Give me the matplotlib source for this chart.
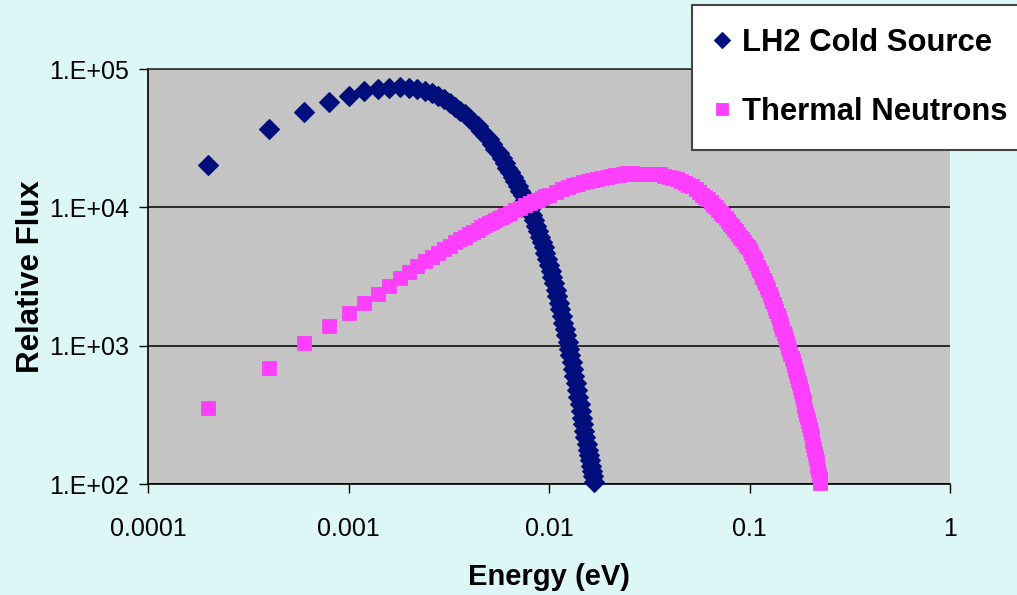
import matplotlib
matplotlib.use('Agg')
import matplotlib.pyplot as plt
from matplotlib.ticker import FixedLocator, FixedFormatter, NullLocator

# ---------------- data ----------------
cold_energy = [0.0002, 0.0004, 0.0006, 0.0008, 0.0010, 0.0012, 0.0014, 0.0016, 0.0018, 0.0020,
               0.0022, 0.0024, 0.0026, 0.0028, 0.0030, 0.0032, 0.0034, 0.0036, 0.0038, 0.0040,
               0.0042, 0.0044, 0.0046, 0.0048, 0.0050, 0.0052, 0.0054, 0.0056, 0.0058, 0.0060,
               0.0062, 0.0064, 0.0066, 0.0068, 0.0070, 0.0072, 0.0074, 0.0076, 0.0078, 0.0080,
               0.0082, 0.0084, 0.0086, 0.0088, 0.0090, 0.0092, 0.0094, 0.0096, 0.0098, 0.0100,
               0.0102, 0.0104, 0.0106, 0.0108, 0.0110, 0.0112, 0.0114, 0.0116, 0.0118, 0.0120,
               0.0122, 0.0124, 0.0126, 0.0128, 0.0130, 0.0132, 0.0134, 0.0136, 0.0138, 0.0140,
               0.0142, 0.0144, 0.0146, 0.0148, 0.0150, 0.0152, 0.0154, 0.0156, 0.0158, 0.0160,
               0.0162, 0.0164, 0.0166, 0.0168]
cold_flux = [20200, 36600, 49100, 57400, 64100, 69100, 71700, 73100, 73500, 72900,
             71400, 69300, 66700, 63600, 60200, 56700, 53300, 50100, 47100, 44400,
             41400, 38600, 35900, 33500, 31100, 28700, 26600, 24600, 22700, 21000,
             19400, 17900, 16600, 15400, 14200, 13200, 12200, 11300, 10500, 9690,
             8860, 8080, 7390, 6740, 6150, 5620, 5130, 4670, 4220, 3820,
             3460, 3130, 2820, 2530, 2270, 2040, 1830, 1640, 1470, 1320,
             1190, 1065, 951, 850, 759, 677, 604, 537, 478, 424,
             377, 336, 301, 270, 242, 218, 195, 177, 162, 149,
             136, 124, 114, 104]

thermal_energy = [0.0002, 0.0004, 0.0006, 0.0008, 0.0010, 0.0012, 0.0014, 0.0016, 0.0018, 0.0020,
                  0.0022, 0.0024, 0.0026, 0.0028, 0.0030, 0.0032, 0.0034, 0.0036, 0.0038, 0.0040,
                  0.0042, 0.0044, 0.0046, 0.0048, 0.0050, 0.0052, 0.0054, 0.0056, 0.0058, 0.0060,
                  0.0064, 0.0068, 0.0072, 0.0076, 0.0080, 0.0084, 0.0088, 0.0092, 0.0096, 0.0100,
                  0.0108, 0.0116, 0.0124, 0.0132, 0.0140, 0.0148, 0.0156, 0.0164,
                  0.0174, 0.0184, 0.0194, 0.0204, 0.0214, 0.0224, 0.0234, 0.0244,
                  0.0260, 0.0276, 0.0292, 0.0308, 0.0324, 0.0340, 0.0356,
                  0.0376, 0.0396, 0.0416, 0.0436, 0.0456, 0.0476, 0.0496, 0.0516,
                  0.0540, 0.0560, 0.0580, 0.0600, 0.0620, 0.0640, 0.0660, 0.0680, 0.0700, 0.0720,
                  0.0740, 0.0760, 0.0780, 0.0800, 0.0820, 0.0840, 0.0860, 0.0880, 0.0900, 0.0920,
                  0.0940, 0.0960, 0.0980, 0.1000, 0.1020, 0.1040, 0.1060, 0.1080, 0.1100, 0.1120,
                  0.1140, 0.1160, 0.1180, 0.1200, 0.1220, 0.1240, 0.1260, 0.1280, 0.1300, 0.1320,
                  0.1340, 0.1360, 0.1380, 0.1400, 0.1420, 0.1440, 0.1460, 0.1480, 0.1500, 0.1520,
                  0.1540, 0.1560, 0.1580, 0.1600, 0.1620, 0.1640, 0.1660, 0.1680, 0.1700, 0.1720,
                  0.1740, 0.1760, 0.1780, 0.1800, 0.1820, 0.1840, 0.1860, 0.1880, 0.1900, 0.1920,
                  0.1940, 0.1960, 0.1980, 0.2000, 0.2020, 0.2040, 0.2060, 0.2080, 0.2100, 0.2120,
                  0.2140, 0.2160, 0.2180, 0.2200, 0.2220, 0.2240, 0.2260]
thermal_flux = [352, 689, 1040, 1386, 1720, 2043, 2370, 2710, 3060, 3406,
                3745, 4083, 4411, 4707, 5000, 5291, 5583, 5868, 6146, 6403,
                6656, 6908, 7157, 7403, 7648, 7892, 8132, 8354, 8556, 8759,
                9157, 9550, 9933, 10310, 10680, 11020, 11360, 11690, 12010, 12340,
                12970, 13580, 14020, 14400, 14760, 15120, 15460, 15790,
                16130, 16360, 16590, 16800, 17010, 17210, 17410, 17600,
                17580, 17530, 17490, 17460, 17420, 17390, 17360,
                16980, 16600, 16250, 15910, 15440, 15020, 14620, 14240,
                13570, 12940, 12330, 11870, 11430, 10950, 10480, 10020, 9570, 9140,
                8730, 8345, 7975, 7635, 7310, 7004, 6710, 6424, 6150, 5879,
                5620, 5375, 5140, 4890, 4650, 4398, 4160, 3939, 3730, 3530,
                3340, 3160, 2990, 2826, 2670, 2521, 2380, 2244, 2115, 1996,
                1883, 1777, 1677, 1581, 1491, 1404, 1322, 1245, 1173, 1105,
                1041, 980, 923, 869, 818, 770, 724, 681, 640, 602,
                566, 533, 501, 471, 442, 415, 390, 366, 344, 323,
                303, 284, 267, 250, 234, 218, 204, 191, 178, 166,
                155, 145, 135, 126, 117, 109, 102]

x_ticks = [0.0001, 0.001, 0.01, 0.1, 1]
x_tick_labels = ['0.0001', '0.001', '0.01', '0.1', '1']
y_ticks = [1e2, 1e3, 1e4, 1e5]
y_tick_labels = ['1.E+02', '1.E+03', '1.E+04', '1.E+05']
series_labels = ['LH2 Cold Source', 'Thermal Neutrons']
x_title = 'Energy (eV)'
y_title = 'Relative Flux'

# ---------------- style ----------------
FONT = ['Liberation Sans', 'DejaVu Sans']
plt.rcParams['font.family'] = FONT
BG = '#DDF6F6'
PLOT_BG = '#C4C4C4'
COLD = '#000E7C'
THERM = '#FF3FFF'

W, H = 1017, 595
fig = plt.figure(figsize=(W / 100, H / 100), dpi=100, facecolor=BG)
left, right, top, bottom = 148, 950, 69, 484
ax = fig.add_axes([left / W, 1 - bottom / H, (right - left) / W, (bottom - top) / H])
ax.set_facecolor(PLOT_BG)

ax.plot(cold_energy, cold_flux, linestyle='none', marker='D', markersize=10.0,
        color=COLD, markeredgecolor=COLD, markeredgewidth=0.8,
        label=series_labels[0], zorder=3, clip_on=False)
ax.plot(thermal_energy, thermal_flux, linestyle='none', marker='s', markersize=10.0,
        color=THERM, markeredgecolor=THERM, markeredgewidth=0.6,
        label=series_labels[1], zorder=3, clip_on=False)

ax.set_xscale('log')
ax.set_yscale('log')
ax.set_xlim(1e-4, 1)
ax.set_ylim(1e2, 1e5)

ax.xaxis.set_major_locator(FixedLocator(x_ticks))
ax.xaxis.set_major_formatter(FixedFormatter(x_tick_labels))
ax.yaxis.set_major_locator(FixedLocator(y_ticks))
ax.yaxis.set_major_formatter(FixedFormatter(y_tick_labels))
ax.xaxis.set_minor_locator(NullLocator())
ax.yaxis.set_minor_locator(NullLocator())

ax.tick_params(axis='both', which='major', direction='out', length=6.5, width=1.0,
               color='black', labelsize=18, labelcolor='black')
ax.tick_params(axis='y', pad=7)
ax.tick_params(axis='x', pad=17)

ax.yaxis.grid(True, color='#111111', linewidth=1.2)
ax.set_axisbelow(True)

for s in ['left', 'bottom']:
    ax.spines[s].set_color('black')
    ax.spines[s].set_linewidth(1.2)
ax.spines['top'].set_color('#333333')
ax.spines['top'].set_linewidth(1.2)
ax.spines['right'].set_visible(False)

ax.set_xlabel(x_title, fontsize=21, fontweight='bold', labelpad=16)
ax.set_ylabel(y_title, fontsize=22.5, fontweight='bold', labelpad=2)

leg = fig.legend(loc='upper left', bbox_to_anchor=(692 / W, 1 - 5 / H),
                 bbox_transform=fig.transFigure, borderaxespad=0,
                 frameon=True, fancybox=False, shadow=False, framealpha=1,
                 facecolor='white', edgecolor='#444444',
                 prop={'family': FONT, 'size': 22.3, 'weight': 'bold'},
                 handlelength=0.43, handletextpad=0.43, borderpad=0.75,
                 labelspacing=1.24, markerscale=0.85)
leg.get_frame().set_linewidth(1.5)

fig.savefig('out.png', dpi=100, facecolor=BG)
